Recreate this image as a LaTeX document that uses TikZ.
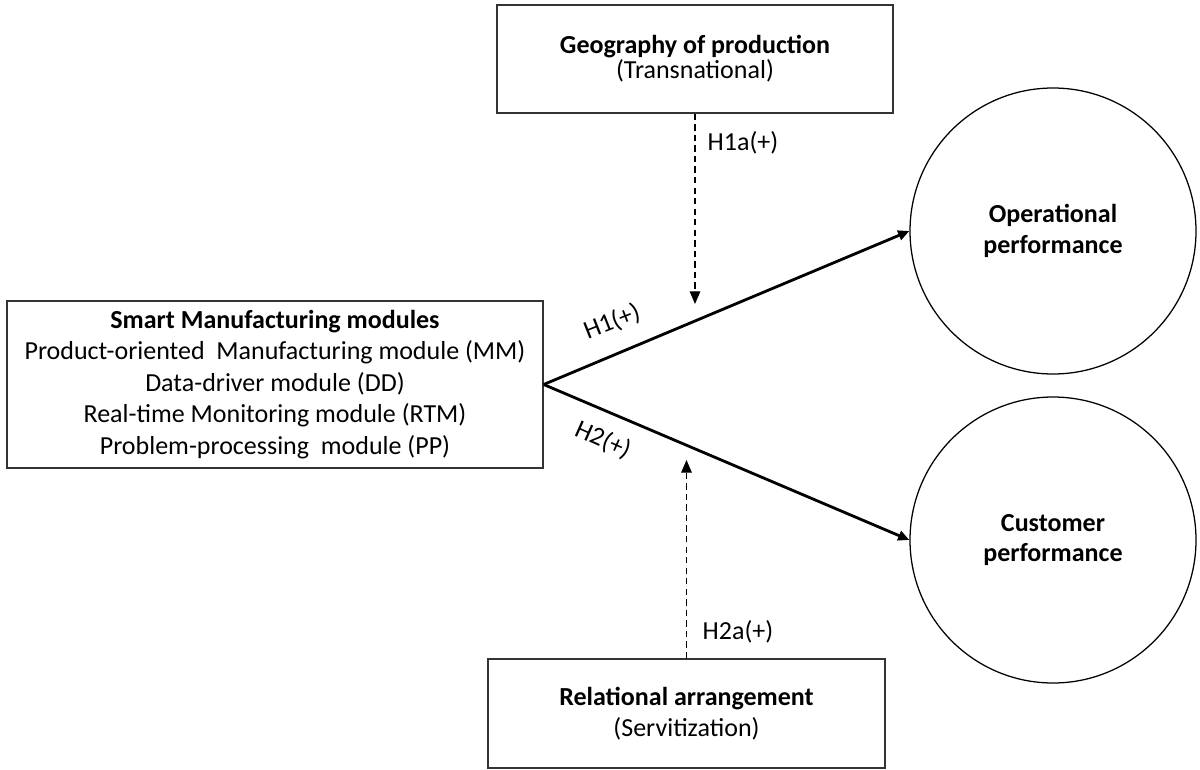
\documentclass[tikz,border=0pt]{standalone}
\usepackage{fontspec}
\setmainfont{Carlito}
\usepackage{tikz}
\usetikzlibrary{arrows.meta}
\tikzset{every node/.style={font=\fontsize{18.5}{22.4}\selectfont},
  box/.style={draw=black!80, line width=1pt, rectangle, align=center, inner sep=0pt},
  perf/.style={draw=black, line width=0.9pt, circle, align=center, inner sep=0pt,
    minimum size=7.15cm, font=\fontsize{18.5}{21.5}\selectfont\bfseries},
  effect/.style={line width=2pt, -{Triangle[length=8pt,width=7pt]}},
  moder/.style={line width=0.9pt, dash pattern=on 4.5pt off 3pt, -{Triangle[length=9pt,width=7.5pt]}},
  hyp/.style={inner sep=0pt}}

\begin{document}
\begin{tikzpicture}
        \useasboundingbox (0, 0) rectangle (30, -19.225);

        \node[box, minimum width=13.4cm, minimum height=4.175cm] (sm) at (6.875, -9.6125)
          {\textbf{Smart Manufacturing modules}\\
           Product-oriented~ Manufacturing module (MM)\\
           Data-driver module (DD)\\
           Real-time Monitoring module (RTM)\\
           Problem-processing~ module (PP)};
        \node[box, minimum width=9.9cm, minimum height=2.7cm,
          font=\fontsize{18.5}{17.8}\selectfont] (geo) at (17.375, -1.475)
          {\textbf{Geography of production}\\(Transnational)};
        \node[box, minimum width=9.925cm, minimum height=2.725cm,
          font=\fontsize{18.5}{22}\selectfont] (rel) at (17.1625, -17.8375)
          {\textbf{Relational arrangement}\\(Servitization)};
        \node[perf] (op) at (26.325, -5.775) {Operational\\performance};
        \node[perf] (cp) at (26.325, -13.5) {Customer\\performance};

        \coordinate (geoend) at (17.375, -7.6);
        \coordinate (relend) at (17.1625, -11.5);

        \draw[effect] (sm.east) -- (op.west);
        \draw[effect] (sm.east) -- (cp.west);
        \draw[moder] (geo.south) -- (geoend);
        \draw[moder] (rel.north) -- (relend);

        \node[hyp, rotate=21.6] (h1) at (15.3, -8.05) {H1(+)};
        \node[hyp, rotate=-23.9] (h2) at (15.075, -11.0) {H2(+)};
        \node[hyp] (h1a) at (18.575, -3.575) {H1a(+)};
        \node[hyp] (h2a) at (18.45, -15.8) {H2a(+)};
    \end{tikzpicture}
\end{document}
